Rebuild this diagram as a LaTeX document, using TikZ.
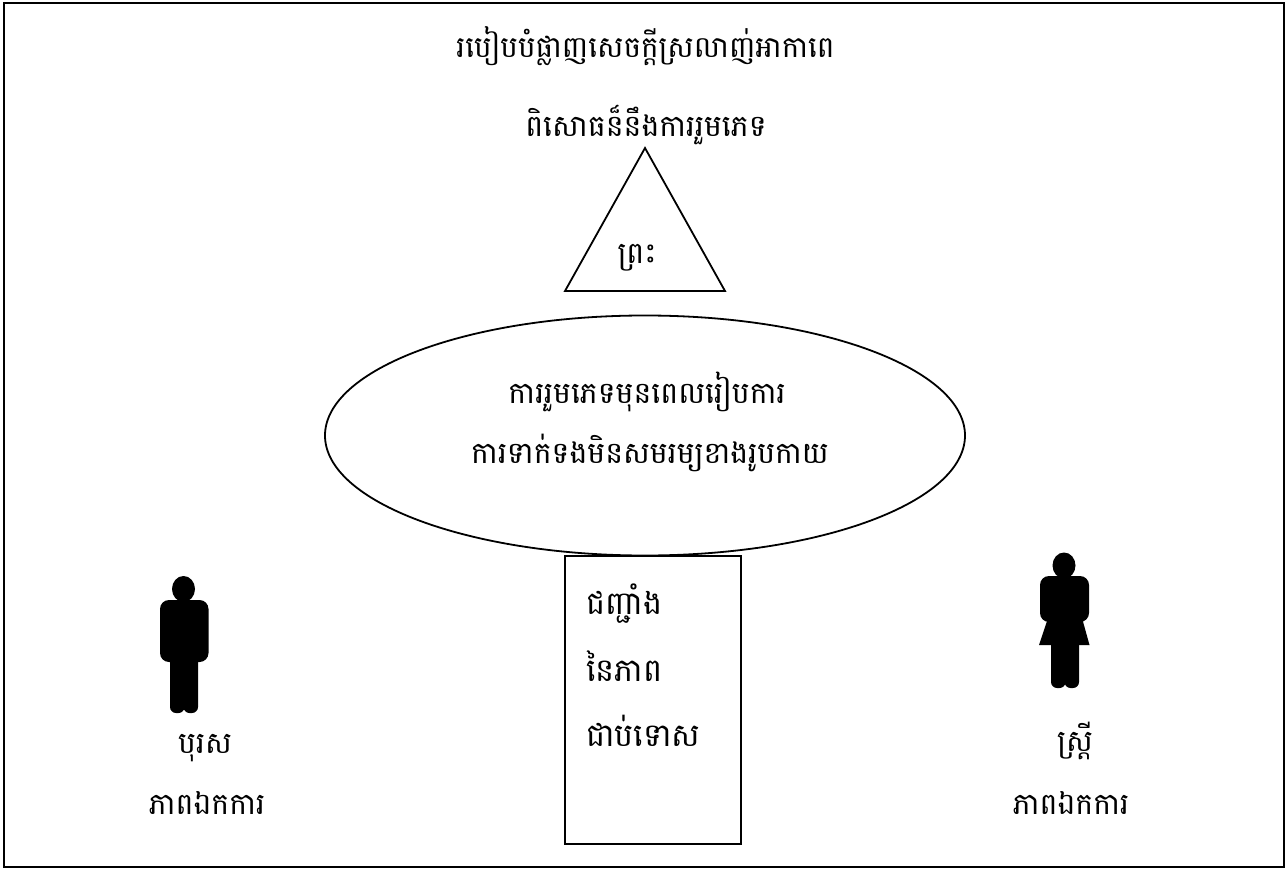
\documentclass[tikz,border=0pt]{standalone}
\usepackage{fontspec}
\usetikzlibrary{shapes.geometric}
\newfontfamily\khmerfont[Script=Khmer]{Battambang}
\tikzset{
  kh/.style={inner sep=0pt,outer sep=0pt,anchor=base,font=\khmerfont\fontsize{30}{36}\selectfont,text=black},
  khl/.style={kh,anchor=base west,font=\khmerfont\fontsize{32}{38}\selectfont},
  outline/.style={draw=black,line width=1.8pt,fill=none},
  figure/.style={fill=black,draw=none}
}
\begin{document}
\begin{tikzpicture}[x=1pt,y=-1pt]
\useasboundingbox (0,0) rectangle (1288,869);
\fill[white] (0,0) rectangle (1288,869);
\draw[outline] (4,3) rectangle (1284,867);
% triangle
\draw[outline,line join=miter] (645,148) -- (725,291) -- (565,291) -- cycle;
% ellipse and rectangle
\node[outline,ellipse,inner sep=0pt,minimum width=640pt,minimum height=240pt] (sex) at (645,435.5) {};
\node[outline,rectangle,inner sep=0pt,minimum width=176pt,minimum height=288pt] (wall) at (653,700) {};
% man
\fill[figure] (183.5,589) circle[x radius=11.5pt,y radius=13pt];
\fill[figure,rounded corners=9pt] (160,600) rectangle (208.5,662);
\fill[figure,rounded corners=6pt] (170,640) rectangle (184.5,713);
\fill[figure,rounded corners=6pt] (183.5,640) rectangle (198,713);
% woman
\fill[figure] (1064,565.5) circle[x radius=11.5pt,y radius=13pt];
\fill[figure,rounded corners=9pt] (1040,576) rectangle (1089,622);
\fill[figure] (1048,618) -- (1082,618) -- (1089.5,645) -- (1039,645) -- cycle;
\fill[figure,rounded corners=6pt] (1051,630) rectangle (1065.5,688);
\fill[figure,rounded corners=6pt] (1064.5,630) rectangle (1079,688);
% texts
\node[kh,font=\khmerfont\fontsize{29.5}{36}\selectfont] (t1) at (645.5,58) {របៀបបំផ្លាញសេចក្តីស្រលាញ់អាកាពេ};
\node[kh] (t2) at (646,137) {ពិសោធន៏នឹងការរួមភេទ};
\node[kh] (god) at (637,264) {ព្រះ};
\node[kh] (e1) at (647,403) {ការរួមភេទមុនពេលរៀបការ};
\node[kh] (e2) at (650,463) {ការទាក់ទងមិនសមរម្យខាងរូបកាយ};
\node[khl] (w1) at (586,614) {ជញ្ជាំង};
\node[khl] (w2) at (586,681) {នៃភាព};
\node[khl] (w3) at (586,746) {ជាប់ទោស};
\node[kh] (m1) at (205,753) {បុរស};
\node[kh] (m2) at (207,814) {ភាពឯកការ};
\node[kh] (f1) at (1075,751) {ស្រ្តី};
\node[kh] (f2) at (1071,814) {ភាពឯកការ};
\end{tikzpicture}
\end{document}
